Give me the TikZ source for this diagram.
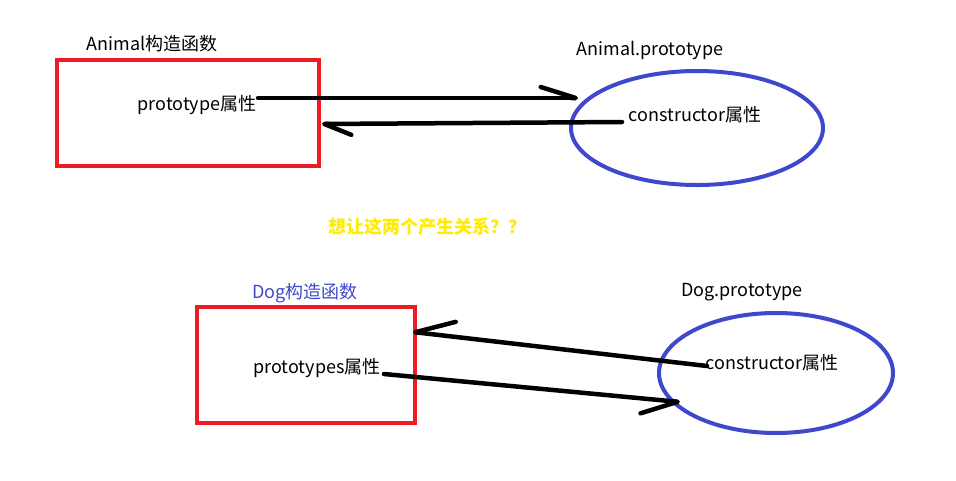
\documentclass[tikz,border=0pt]{standalone}
\usepackage{fontspec}
\setmainfont{Noto Sans CJK SC}
\usetikzlibrary{arrows.meta,shapes.geometric}
\definecolor{paintred}{RGB}{237,28,36}
\definecolor{paintblue}{RGB}{63,72,204}
\definecolor{paintyellow}{RGB}{255,236,0}
\begin{document}
\begin{tikzpicture}[x=1pt, y=-1pt,
    every node/.style={font=\fontsize{18}{21}\selectfont, inner sep=0pt},
    ctorbox/.style={draw=paintred, line width=4pt, rectangle},
    protoring/.style={draw=paintblue, line width=4pt, ellipse},
    link/.style={line width=4.5pt, line cap=round, line join=round},
    barbl/.style={link, -{Straight Barb[left, length=#1, width=22pt, round]}},
    barbr/.style={link, -{Straight Barb[right, length=#1, width=30pt, round]}}]
  % upper pair: Animal constructor and Animal.prototype
  \useasboundingbox (0,0) rectangle (956,480);
  \node[ctorbox, minimum width=262pt, minimum height=106pt] (boxA) at (188,113) {};
  \node (titleA) at (152,44) {Animal构造函数};
  \node (propA) at (197,105) {prototype属性};
  \node[protoring, minimum width=252pt, minimum height=114pt] (ringA) at (697,128) {};
  \node (titleRA) at (650,50) {Animal.prototype};
  \node (consA) at (695,115) {constructor属性};
  \coordinate (a1s) at (258,98);
  \coordinate (a1e) at (578,98);
  \coordinate (a2s) at (622,122);
  \coordinate (a2e) at (322,124);
  \draw[barbl=35pt] (a1s) -- (a1e);
  \draw[barbl=27pt] (a2s) -- (a2e);
  % the question in between
  \node[text=paintyellow, font=\fontsize{18}{21}\selectfont\bfseries] (ask) at (427,227) {想让这两个产生关系？？};
  % lower pair: Dog constructor and Dog.prototype
  \node[ctorbox, minimum width=218pt, minimum height=116pt] (boxD) at (306,365) {};
  \node[text=paintblue] (titleD) at (305,293) {Dog构造函数};
  \node (propD) at (317,368) {prototypes属性};
  \node[protoring, minimum width=234pt, minimum height=120pt] (ringD) at (776,373) {};
  \node (titleRD) at (742,292) {Dog.prototype};
  \node (consD) at (772,363) {constructor属性};
  \coordinate (d1s) at (707,366);
  \coordinate (d1e) at (413,332);
  \coordinate (d2s) at (384,374);
  \coordinate (d2e) at (680,402);
  \draw[barbr=39pt] (d1s) -- (d1e);
  \draw[barbr=36pt] (d2s) -- (d2e);
\end{tikzpicture}
\end{document}
